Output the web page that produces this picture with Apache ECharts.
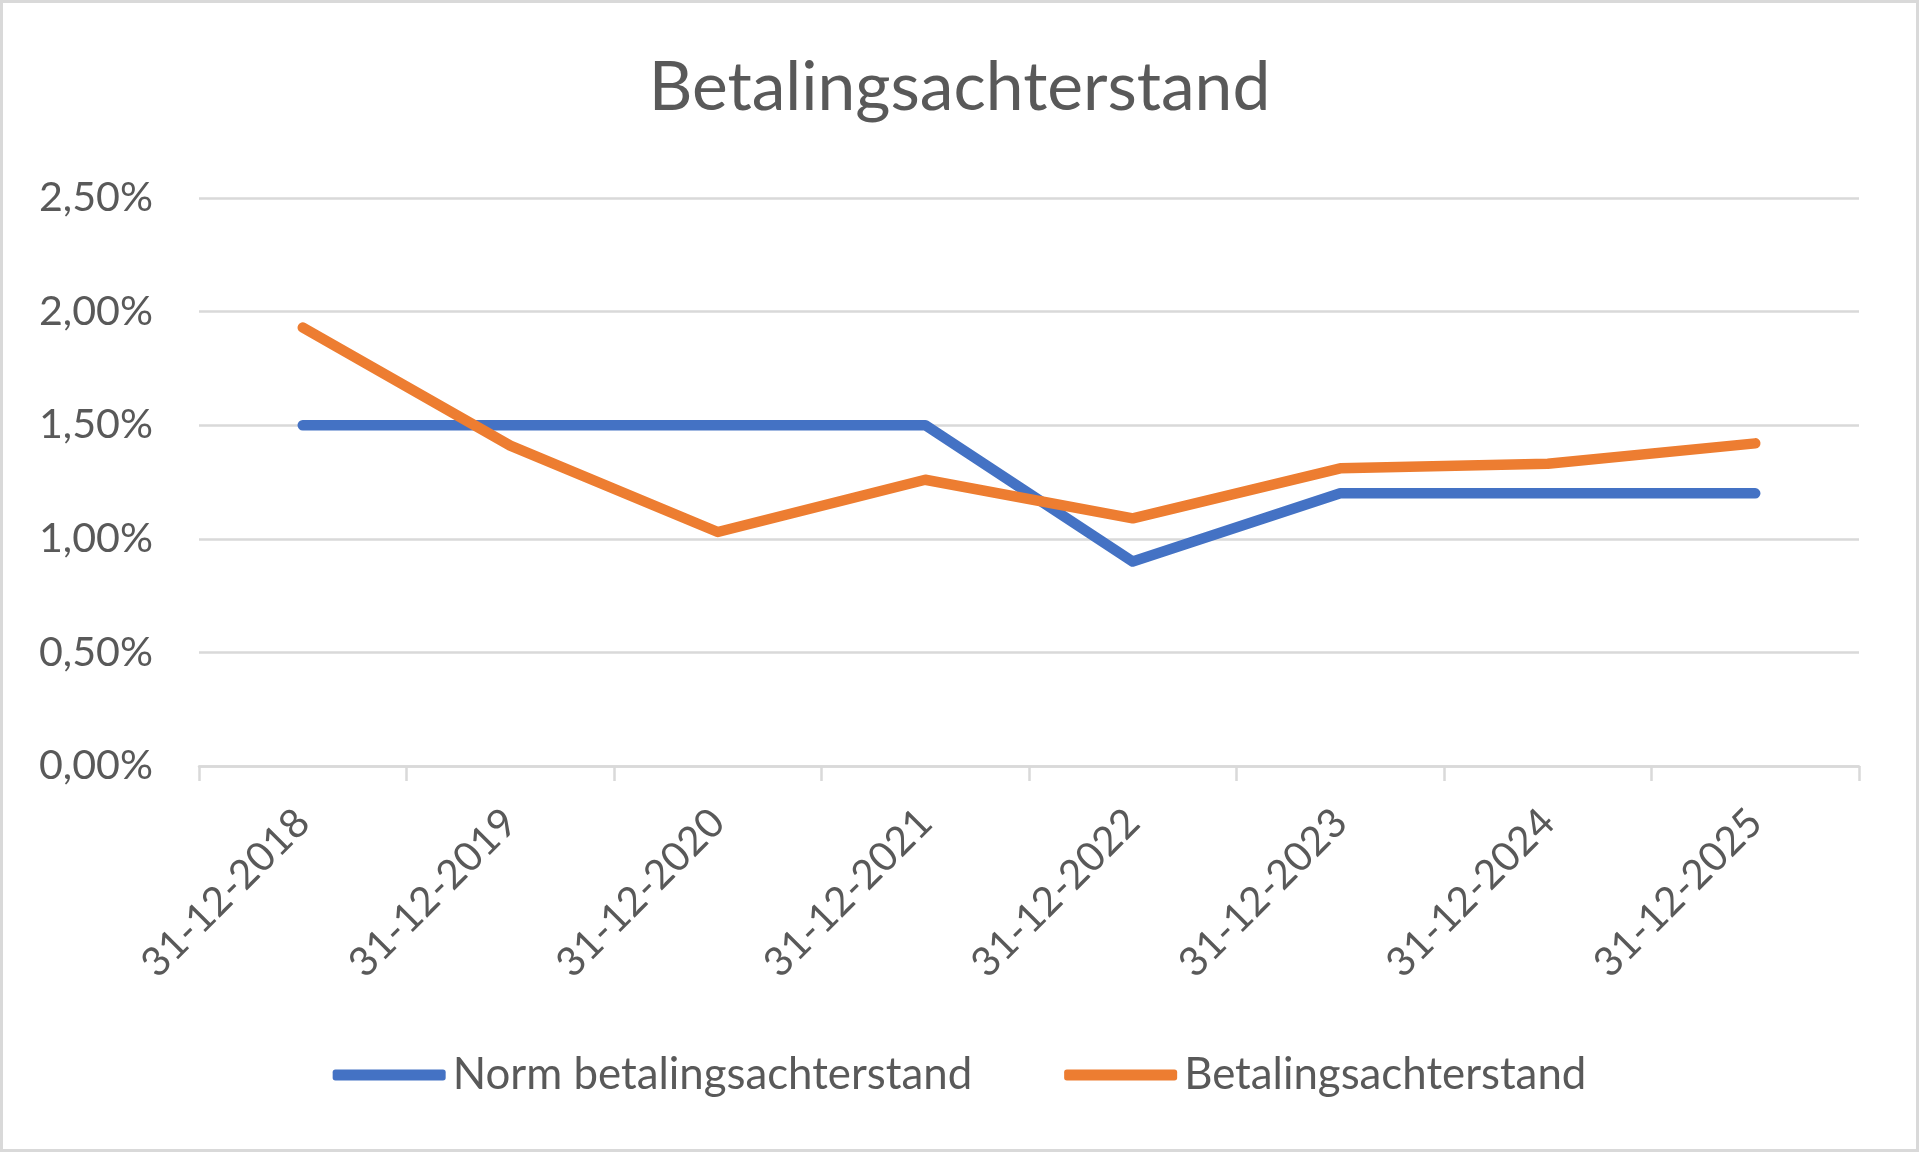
<!DOCTYPE html>
<html>
<head>
<meta charset="utf-8">
<title>Betalingsachterstand</title>
<script src="https://cdn.jsdelivr.net/npm/echarts@6/dist/echarts.min.js"></script>
<style>
  html, body { margin: 0; padding: 0; background: #fff; }
  #chart { width: 1919px; height: 1152px; }
</style>
</head>
<body>
<div id="chart"></div>
<script>
// data
const categories = ['31-12-2018', '31-12-2019', '31-12-2020', '31-12-2021',
                    '31-12-2022', '31-12-2023', '31-12-2024', '31-12-2025'];
const normValues = [1.5, 1.5, 1.5, 1.5, 0.9, 1.2, 1.2, 1.2];      // in %
const actualValues = [1.93, 1.41, 1.03, 1.26, 1.09, 1.31, 1.33, 1.42]; // in %
const seriesNames = ['Norm betalingsachterstand', 'Betalingsachterstand'];
const yTicks = { min: 0, max: 2.5, interval: 0.5 };

const FONT = 'Lato';
const TEXT_COLOR = '#595959';
const GRID_COLOR = '#d9d9d9';

// scale font so text has about the same width as in the reference (Calibri)
function fitSize(text, target) {
    const ctx = document.createElement('canvas').getContext('2d');
    ctx.font = '100px ' + FONT;
    return Math.round(100 * target / ctx.measureText(text).width * 10) / 10;
}
const titleSize = fitSize('Betalingsachterstand', 622);
const xLabelSize = fitSize('31-12-2018', 218);
const yLabelSize = fitSize('2,50%', 114);
const legendSize = fitSize('Norm betalingsachterstand', 520);

function pct(v) {
    return v.toFixed(2).replace('.', ',') + '%';
}

const chart = echarts.init(document.getElementById('chart'));
chart.setOption({
    animation: false,
    backgroundColor: '#fff',
    textStyle: { fontFamily: FONT, color: TEXT_COLOR },
    title: {
        text: 'Betalingsachterstand',
        left: 'center',
        top: 49,
        textStyle: { fontFamily: FONT, fontSize: titleSize, fontWeight: 'normal', color: TEXT_COLOR }
    },
    graphic: [{
        type: 'rect',
        shape: { x: 1.5, y: 1.5, width: 1916, height: 1149 },
        style: { fill: 'none', stroke: GRID_COLOR, lineWidth: 3 },
        silent: true
    }],
    legend: {
        left: 'center',
        top: 1048,
        itemWidth: 113,
        itemHeight: 11,
        itemGap: 92,
        icon: 'roundRect',
        textStyle: { fontFamily: FONT, fontSize: legendSize, color: TEXT_COLOR, padding: [0, 0, 0, 2] },
        data: seriesNames
    },
    grid: { left: 199, right: 60, top: 198, bottom: 386 },
    xAxis: {
        type: 'category',
        data: categories,
        boundaryGap: true,
        axisLine: { lineStyle: { color: GRID_COLOR, width: 2.5 } },
        axisTick: { show: true, length: 15, lineStyle: { color: GRID_COLOR, width: 2.5 } },
        axisLabel: {
            rotate: 45,
            margin: 50,
            interval: 0,
            fontFamily: FONT,
            fontSize: xLabelSize,
            color: TEXT_COLOR
        }
    },
    yAxis: {
        type: 'value',
        min: yTicks.min,
        max: yTicks.max,
        interval: yTicks.interval,
        axisLine: { show: false },
        axisTick: { show: false },
        splitLine: { lineStyle: { color: GRID_COLOR, width: 2.5 } },
        axisLabel: {
            margin: 46,
            fontFamily: FONT,
            fontSize: yLabelSize,
            color: TEXT_COLOR,
            formatter: pct
        }
    },
    series: [{
        name: seriesNames[0],
        type: 'line',
        data: normValues,
        symbol: 'none',
        color: '#4472C4',
        lineStyle: { width: 10.5, cap: 'round', join: 'round' }
    }, {
        name: seriesNames[1],
        type: 'line',
        data: actualValues,
        symbol: 'none',
        color: '#ED7D31',
        lineStyle: { width: 10.5, cap: 'round', join: 'round' }
    }]
});

window.onresize = function () {
    chart.resize();
};
</script>
</body>
</html>
